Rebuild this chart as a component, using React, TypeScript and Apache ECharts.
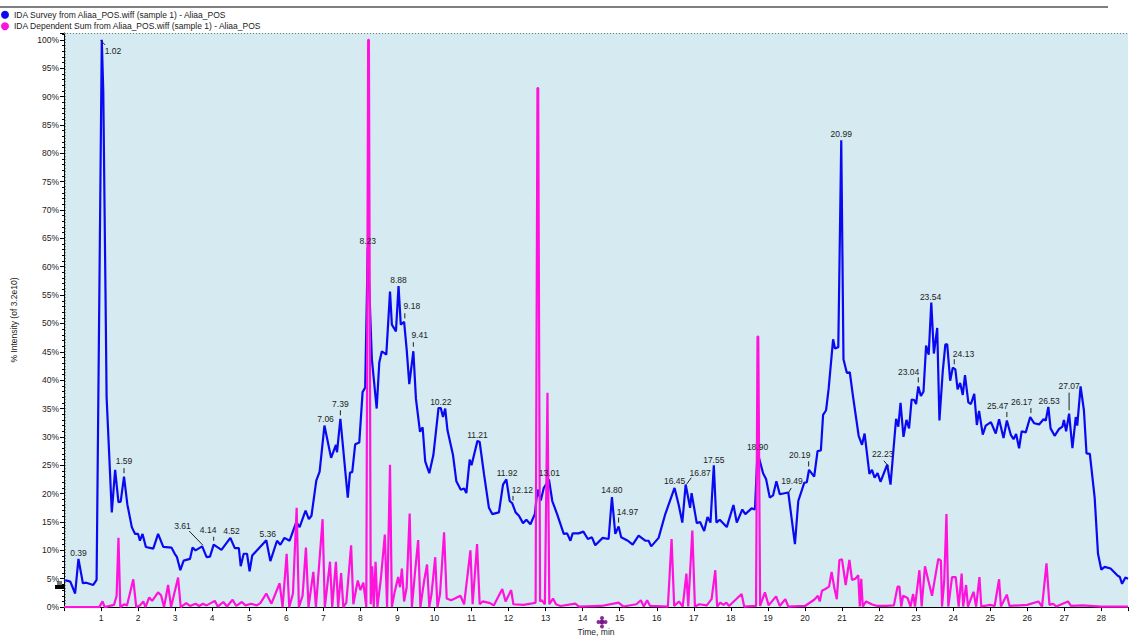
import React, { useEffect, useRef } from "react";
import * as echarts from "echarts";

const surveyName = "IDA Survey from Aliaa_POS.wiff (sample 1) - Aliaa_POS";
const dependentName = "IDA Dependent Sum from Aliaa_POS.wiff (sample 1) - Aliaa_POS";

const surveyTimes = [
  0, 0.17, 0.3, 0.39, 0.51, 0.6, 0.79, 0.88, 1.02, 1.06, 1.13, 1.15, 1.29, 1.38, 1.47, 1.53, 1.62, 1.71, 1.83, 1.92,
  2.0, 2.05, 2.12, 2.21, 2.41, 2.54, 2.68, 2.9, 2.99, 3.05, 3.14, 3.23, 3.4, 3.47, 3.55, 3.73, 3.85, 3.94, 4.04, 4.25,
  4.49, 4.61, 4.72, 4.77, 4.85, 4.94, 5.01, 5.08, 5.46, 5.57, 5.75, 5.84, 5.95, 6.09, 6.27, 6.36, 6.52, 6.61, 6.68, 6.81,
  6.9, 7.03, 7.21, 7.34, 7.37, 7.46, 7.66, 7.72, 7.78, 7.86, 7.97, 8.06, 8.13, 8.2, 8.31, 8.44, 8.51, 8.58, 8.7, 8.8,
  8.85, 8.96, 9.03, 9.09, 9.18, 9.25, 9.32, 9.43, 9.5, 9.61, 9.68, 9.75, 9.86, 9.97, 10.11, 10.17, 10.23, 10.29, 10.35, 10.5,
  10.59, 10.71, 10.8, 10.86, 10.95, 11.0, 11.16, 11.22, 11.34, 11.47, 11.56, 11.74, 11.85, 11.94, 12.03, 12.1, 12.19, 12.28, 12.39, 12.48,
  12.59, 12.71, 12.78, 12.87, 12.95, 13.09, 13.18, 13.31, 13.49, 13.58, 13.67, 13.73, 13.89, 14.02, 14.14, 14.25, 14.34, 14.54, 14.7, 14.79,
  14.88, 14.97, 15.04, 15.22, 15.35, 15.51, 15.69, 15.78, 15.85, 16.05, 16.23, 16.48, 16.59, 16.69, 16.78, 16.9, 16.94, 17.08, 17.17, 17.28,
  17.37, 17.45, 17.54, 17.61, 17.7, 17.89, 18.07, 18.16, 18.31, 18.39, 18.56, 18.65, 18.72, 18.87, 18.95, 19.05, 19.14, 19.23, 19.32, 19.55,
  19.73, 19.82, 19.98, 20.05, 20.11, 20.25, 20.34, 20.43, 20.49, 20.57, 20.64, 20.76, 20.81, 20.9, 20.98, 21.04, 21.13, 21.21, 21.3, 21.45,
  21.54, 21.61, 21.74, 21.81, 21.88, 21.96, 22.04, 22.22, 22.31, 22.46, 22.52, 22.58, 22.66, 22.74, 22.81, 22.88, 22.95, 23.0, 23.06, 23.13,
  23.2, 23.27, 23.34, 23.41, 23.48, 23.57, 23.63, 23.72, 23.79, 23.84, 23.92, 23.99, 24.06, 24.12, 24.19, 24.26, 24.32, 24.41, 24.48, 24.57,
  24.64, 24.7, 24.8, 24.88, 25.02, 25.15, 25.24, 25.36, 25.45, 25.56, 25.63, 25.7, 25.78, 25.85, 25.96, 26.08, 26.19, 26.32, 26.44, 26.5,
  26.57, 26.63, 26.74, 26.86, 26.95, 26.99, 27.05, 27.13, 27.22, 27.31, 27.35, 27.44, 27.53, 27.6, 27.69, 27.82, 27.91, 28.0, 28.09, 28.25,
  28.43, 28.5, 28.56, 28.65, 28.72,
];
const surveyValues = [
  4.8, 4.5, 2.4, 8.5, 4.2, 4.3, 3.9, 4.8, 100, 91, 49.5, 37, 16.7, 24.2, 18.5, 18.6, 23, 18.1, 14.1, 12.9,
  12.9, 11.7, 12.9, 10.6, 10.3, 12.9, 10.6, 10.5, 9.4, 8.8, 6.5, 8.2, 8.5, 10.5, 10.0, 10.7, 8.8, 8.9, 11.0, 10.1,
  12.2, 10.4, 10.4, 7.2, 9.4, 9.4, 6.3, 9.1, 11.8, 8.1, 11.7, 11.0, 12.2, 11.7, 15, 14.1, 17.0, 15.5, 16.1, 22.3,
  23.9, 32, 26.3, 28.6, 27.3, 33.2, 19.3, 23.7, 23.8, 28.7, 29, 37.9, 38.7, 63.4, 43.7, 35.0, 43.1, 45.1, 44.5, 55.6,
  49.8, 48.6, 56.6, 49.8, 50.3, 45.4, 39.3, 45.1, 36.7, 30.9, 31.7, 25.7, 23.6, 26.8, 35.1, 35.1, 33.5, 35, 31.2, 26.8,
  22.2, 20.7, 20.9, 20.1, 26, 25, 29.3, 29.1, 23.3, 17.5, 16.4, 16.7, 21.6, 22.5, 18.7, 18.3, 16.7, 16.1, 14.8, 15.4,
  14.6, 16.4, 20.7, 18.8, 21.0, 22.5, 18.7, 16.4, 12.9, 13.0, 11.7, 13.0, 13, 13.3, 12, 12.3, 10.9, 12.2, 12.0, 19.4,
  12.9, 14.2, 12.3, 11.7, 11.0, 12.6, 11.7, 11.7, 10.7, 12.2, 16.4, 21.0, 18.1, 14.9, 21.6, 17.5, 20.1, 14.8, 15.0, 13.4,
  15.9, 14.9, 25, 14.9, 15.4, 14.1, 18, 14.9, 17.2, 16.4, 17.4, 17.2, 27.3, 23.6, 22.6, 19.3, 19.7, 22.2, 19.9, 20.2,
  11.1, 18.7, 21.9, 22, 24.2, 23.0, 27.5, 27.6, 33.9, 34.7, 38.5, 47.2, 45.6, 45.8, 82.3, 43.7, 41.3, 41.4, 37, 30.2,
  28.6, 30.6, 23.5, 24.2, 22.8, 23.6, 22.1, 25.1, 21.6, 33.2, 31.8, 36, 30, 33, 31.5, 36.6, 36.5, 35.8, 38.9, 37.2,
  38.0, 46.1, 44.5, 53.7, 44.7, 49.2, 32.9, 41.6, 46.3, 46.3, 39.9, 42.2, 41.9, 38.4, 39.5, 37.4, 40.9, 36.1, 35.8, 37.6,
  32.1, 34.6, 30.4, 32, 32.6, 30.6, 33.1, 29.8, 32.9, 30.3, 29.6, 30.5, 28, 31, 30.8, 33.5, 32.4, 32.2, 33.1, 32.9,
  35.3, 31.5, 30.2, 31.4, 31.8, 33, 31, 34.1, 28, 33.5, 32, 38.9, 34.7, 27.1, 27, 19.3, 9.4, 6.6, 7.1, 6.8,
  5.6, 5.3, 4.1, 5.2, 5.0,
];

const dependentTimes = [
  0, 0.95, 1.04, 1.1, 1.35, 1.42, 1.47, 1.52, 1.62, 1.7, 1.87, 1.95, 2.05, 2.14, 2.2, 2.3, 2.38, 2.54, 2.62, 2.7,
  2.81, 2.89, 3.08, 3.15, 3.3, 3.4, 3.55, 3.65, 3.75, 3.85, 4.07, 4.15, 4.3, 4.4, 4.55, 4.65, 4.8, 4.9, 5.05, 5.2,
  5.3, 5.46, 5.6, 5.82, 5.9, 6.01, 6.08, 6.18, 6.28, 6.34, 6.44, 6.53, 6.6, 6.73, 6.8, 6.98, 7.04, 7.18, 7.24, 7.34,
  7.4, 7.48, 7.54, 7.62, 7.75, 7.81, 7.93, 8.0, 8.08, 8.16, 8.21, 8.23, 8.28, 8.32, 8.36, 8.41, 8.46, 8.55, 8.66, 8.72,
  8.8, 8.85, 8.92, 9.02, 9.07, 9.12, 9.18, 9.25, 9.33, 9.39, 9.48, 9.56, 9.62, 9.72, 9.8, 9.86, 9.92, 10.02, 10.08, 10.15,
  10.26, 10.33, 10.45, 10.55, 10.7, 10.8, 10.97, 11.03, 11.15, 11.22, 11.3, 11.5, 11.6, 11.83, 11.92, 12.07, 12.13, 12.4, 12.6, 12.73,
  12.78, 12.8, 12.85, 12.9, 12.98, 13.05, 13.1, 13.2, 13.28, 13.4, 13.8, 13.9, 14.5, 14.97, 15.1, 15.45, 15.57, 15.65, 15.74, 15.82,
  16.3, 16.4, 16.47, 16.6, 16.7, 16.8, 16.85, 16.96, 17.03, 17.15, 17.35, 17.48, 17.58, 17.63, 17.72, 17.8, 17.88, 17.95, 18.29, 18.36,
  18.68, 18.72, 18.74, 18.79, 18.92, 19.02, 19.22, 19.32, 19.47, 19.55, 20.0, 20.25, 20.35, 20.4, 20.46, 20.55, 20.65, 20.72, 20.79, 20.86,
  20.93, 21.0, 21.1, 21.2, 21.27, 21.36, 21.44, 21.48, 21.52, 21.56, 21.65, 21.8, 21.95, 22.2, 22.4, 22.5, 22.55, 22.6, 22.65, 22.77,
  22.85, 22.92, 22.97, 23.09, 23.15, 23.24, 23.33, 23.43, 23.5, 23.6, 23.67, 23.7, 23.76, 23.82, 23.87, 23.97, 24.07, 24.15, 24.23, 24.27,
  24.35, 24.4, 24.55, 24.62, 24.71, 24.76, 25.0, 25.12, 25.24, 25.29, 25.45, 25.52, 26.0, 26.3, 26.4, 26.52, 26.6, 26.7, 26.78, 27.1,
  27.18, 27.5, 28.0, 28.72,
];
const dependentValues = [
  0, 0, 1.0, 0, 0.4, 2.0, 12.2, 0, 0.5, 0.3, 4.9, 0, 0.3, 1.0, 0, 1.7, 1.1, 2.6, 2.1, 0,
  3.9, 0, 5.2, 0, 0.7, 0.2, 0.6, 0.2, 0.6, 0.3, 1.1, 0.1, 0.9, 0.1, 1.3, 0.2, 0.9, 0.3, 0.6, 0.3,
  0.7, 2.4, 0.6, 4.2, 0, 9.4, 0, 2.4, 17.5, 0, 2.0, 10.5, 0, 6.2, 0, 15.5, 0, 8.0, 0, 8.0,
  0, 6.0, 0, 0.8, 10.9, 0.5, 4.7, 3.0, 4.3, 0, 100, 100, 0.5, 7.2, 0, 8, 0, 4.8, 12.8, 0,
  25.1, 0, 2.5, 5.3, 3.5, 6.8, 1, 3.5, 16.5, 0, 6.5, 11.8, 0, 4.6, 7.5, 0, 2.3, 8.8, 0, 2.3,
  13.2, 1.5, 1.2, 1.5, 2.0, 0.5, 10, 0.5, 11.1, 0.5, 1.0, 0.7, 0.3, 3.2, 1.0, 3.0, 0.5, 0.4, 0.6, 0.8,
  91.5, 91.5, 1, 1.2, 0.5, 37.8, 0.5, 1.5, 0.5, 0.2, 0.6, 0.1, 0.2, 0.8, 0.1, 0.5, 1.2, 0.1, 1.2, 0.2,
  0.1, 12, 0.2, 1.0, 0.1, 5.9, 0.1, 13.5, 0.1, 0.5, 0.3, 1.4, 6.5, 0.1, 0.8, 0.4, 0.8, 0.2, 2.3, 0.1,
  0.2, 47.7, 47.7, 0.2, 2.6, 0.3, 1.9, 0.2, 1.4, 0.1, 0.2, 1.3, 2, 1, 2.9, 3.2, 3.6, 6.2, 3.5, 1.4,
  8.3, 8.4, 3.9, 8.3, 4.8, 5, 5.6, 0.1, 5, 0.1, 1, 0.5, 0.2, 0.2, 0.3, 3.6, 3.6, 0.1, 2, 1.6,
  0.1, 2.3, 0.1, 6.5, 0.1, 7.2, 4.7, 2, 4.7, 8.5, 8.2, 0.1, 4.7, 16.4, 0.1, 5.3, 5.3, 0.1, 5.9, 0.1,
  3.9, 0.1, 2.7, 0.1, 5.3, 0.1, 0.4, 0.2, 4.9, 0.1, 2.2, 0.2, 0.4, 1, 0.1, 7.7, 0.4, 0.6, 0.1, 1,
  0.2, 0.3, 0.1, 0.1,
];

const peakLabelTexts = [
  "1.02", "0.39", "1.59", "3.61", "4.14", "4.52", "5.36", "7.06", "7.39", "8.23", "8.88", "9.18",
  "9.41", "10.22", "11.21", "11.92", "12.12", "13.01", "14.80", "14.97", "16.45", "16.87", "17.55",
  "18.90", "19.49", "20.19", "20.99", "22.23", "23.04", "23.54", "24.13", "25.47", "26.17", "26.53", "27.07",
];
const peakLabelTimes = [
  1.32, 0.39, 1.62, 3.2, 3.89, 4.52, 5.5, 7.06, 7.46, 8.2, 9.03, 9.39,
  9.6, 10.17, 11.16, 11.96, 12.37, 13.1, 14.79, 15.21, 16.48, 17.17, 17.54,
  18.72, 19.65, 19.86, 20.98, 22.1, 22.8, 23.39, 24.28, 25.2, 25.85, 26.59, 27.13,
];
const peakLabelValues = [
  98.0, 9.5, 25.7, 14.3, 13.6, 13.4, 12.9, 33.1, 35.8, 64.5, 57.6, 53.0,
  47.9, 36.2, 30.4, 23.6, 20.7, 23.7, 20.6, 16.8, 22.2, 23.6, 26.0,
  28.3, 22.2, 26.8, 83.4, 27.0, 41.5, 54.7, 44.7, 35.4, 36.1, 36.4, 38.9,
];
const peakLeaders: (number[] | null)[] = [
  [0.99, 99.9, 1.11, 99.1], null, [1.62, 24.5, 1.62, 23.6], [3.38, 13.4, 3.75, 10.9], [4.04, 12.4, 4.04, 11.7],
  null, null, null, [7.46, 34.7, 7.46, 33.8], null, null, [9.2, 51.8, 9.2, 50.9],
  [9.43, 46.7, 9.43, 45.9], null, null, null, [12.12, 19.6, 12.12, 18.8], null, null, [14.97, 15.8, 14.97, 14.9],
  null, [16.93, 22.8, 16.81, 21.7], null, null, [19.63, 21.0, 19.56, 20.2], [20.1, 25.7, 20.1, 24.8], null,
  [22.13, 25.8, 22.26, 24.8], [23.06, 40.5, 23.06, 39.6], null, [24.03, 43.7, 24.03, 42.8], [25.45, 34.4, 25.45, 33.5],
  [26.1, 35.1, 26.1, 34.2], null, [27.13, 37.8, 27.13, 34.7],
];

const xMin = 0;
const xMax = 28.72;
const yMin = 0;
const yMax = 101.2;
const FONT = '"Liberation Sans", Arial, sans-serif';

export default function App() {
  const ref = useRef<HTMLDivElement>(null);
  useEffect(() => {
    if (!ref.current) return;
    const chart = echarts.init(ref.current, null, { renderer: "svg" });
    const surveyData = surveyTimes.map((t, i) => [t, surveyValues[i]]);
    const dependentData = dependentTimes.map((t, i) => [t, dependentValues[i]]);
    const labelData = peakLabelTimes.map((t, i) => [t, peakLabelValues[i]]);

    chart.setOption({
      animation: false,
      backgroundColor: "#ffffff",
      textStyle: { fontFamily: FONT },
      legend: {
        orient: "vertical",
        left: 1,
        top: 10,
        itemWidth: 8,
        itemHeight: 8,
        itemGap: 2,
        padding: 0,
        icon: "circle",
        textStyle: { fontSize: 8.5, color: "#222", fontFamily: FONT, lineHeight: 9.5 },
        data: [surveyName, dependentName],
        selectedMode: false,
      },
      grid: {
        left: 64,
        right: 0,
        top: 33,
        bottom: 27,
        show: true,
        backgroundColor: "#d5eaf1",
        borderWidth: 0,
      },
      xAxis: {
        type: "value",
        min: xMin,
        max: xMax,
        interval: 1,
        name: "Time, min",
        nameLocation: "middle",
        nameGap: 17,
        nameTextStyle: { fontSize: 8.5, color: "#222", fontFamily: FONT },
        axisLine: { show: true, lineStyle: { color: "#000", width: 1 } },
        axisTick: { show: true, length: 4, lineStyle: { color: "#000" } },
        axisLabel: {
          fontSize: 8.5,
          color: "#222",
          margin: 6,
          fontFamily: FONT,
          formatter: (v: number) => (Math.abs(v - Math.round(v)) < 1e-6 && v > 0.5 ? String(Math.round(v)) : ""),
        },
        splitLine: { show: false },
      },
      yAxis: {
        type: "value",
        min: yMin,
        max: yMax,
        interval: 5,
        name: "% Intensity (of 3.2e10)",
        nameLocation: "middle",
        nameGap: 46,
        nameTextStyle: { fontSize: 8.5, color: "#222", fontFamily: FONT },
        axisLine: { show: true, lineStyle: { color: "#000", width: 1 } },
        axisTick: { show: true, length: 4, lineStyle: { color: "#000" } },
        minorTick: { show: true, splitNumber: 5, length: 2, lineStyle: { color: "#000" } },
        axisLabel: {
          fontSize: 8.5,
          color: "#222",
          margin: 5,
          fontFamily: FONT,
          formatter: (v: number) => (Math.abs(v / 5 - Math.round(v / 5)) < 1e-6 ? Math.round(v) + "%" : ""),
        },
        splitLine: { show: false },
      },
      series: [
        {
          name: surveyName,
          type: "line",
          data: surveyData,
          showSymbol: false,
          symbol: "circle",
          color: "#0a0af2",
          lineStyle: { color: "#0a0af2", width: 2.2 },
          z: 2,
          markLine: {
            silent: true,
            symbol: "none",
            label: { show: false },
            lineStyle: { color: "#777", type: [1, 2], width: 1 },
            data: [{ yAxis: yMax }, { xAxis: 0.04 }],
          },
        },
        {
          name: dependentName,
          type: "line",
          data: dependentData,
          showSymbol: false,
          symbol: "circle",
          color: "#ff12dc",
          lineStyle: { color: "#ff12dc", width: 2.2 },
          z: 3,
        },
        {
          type: "custom",
          name: "peak labels",
          data: labelData,
          z: 5,
          clip: false,
          renderItem: (params: any, api: any) => {
            const i = params.dataIndex;
            const p = api.coord([api.value(0), api.value(1)]);
            const children: any[] = [
              {
                type: "text",
                x: p[0],
                y: p[1],
                style: {
                  text: peakLabelTexts[i],
                  fill: "#222",
                  fontSize: 8.5,
                  fontFamily: FONT,
                  align: "center",
                  verticalAlign: "middle",
                },
              },
            ];
            const ld = peakLeaders[i];
            if (ld) {
              const a = api.coord([ld[0], ld[1]]);
              const b = api.coord([ld[2], ld[3]]);
              children.push({
                type: "line",
                shape: { x1: a[0], y1: a[1], x2: b[0], y2: b[1] },
                style: { stroke: "#222", lineWidth: 1 },
              });
            }
            return { type: "group", children };
          },
        },
      ],
      graphic: [
        {
          type: "line",
          shape: { x1: 0, y1: 7, x2: 1108, y2: 7 },
          style: { stroke: "#555", lineWidth: 1.5 },
          silent: true,
        },
        {
          type: "group",
          silent: true,
          children: [
            { type: "rect", shape: { x: 57, y: 581, width: 5, height: 4 }, style: { fill: "#777" } },
            { type: "rect", shape: { x: 55, y: 585, width: 9, height: 4 }, style: { fill: "#000" } },
          ],
        },
        {
          type: "group",
          silent: true,
          children: [
            { type: "circle", shape: { cx: 602, cy: 618, r: 2 }, style: { fill: "#8b2a9e" } },
            { type: "circle", shape: { cx: 598.5, cy: 622, r: 2 }, style: { fill: "#8b2a9e" } },
            { type: "circle", shape: { cx: 605.5, cy: 622, r: 2 }, style: { fill: "#8b2a9e" } },
            { type: "circle", shape: { cx: 602, cy: 622, r: 2.5 }, style: { fill: "#6e1a82" } },
            { type: "circle", shape: { cx: 602, cy: 626.5, r: 2 }, style: { fill: "#8b2a9e" } },
          ],
        },
      ],
    });
    return () => chart.dispose();
  }, []);
  return <div ref={ref} style={{ position: "fixed", left: 0, top: 0, width: 1131, height: 641 }} />;
}
